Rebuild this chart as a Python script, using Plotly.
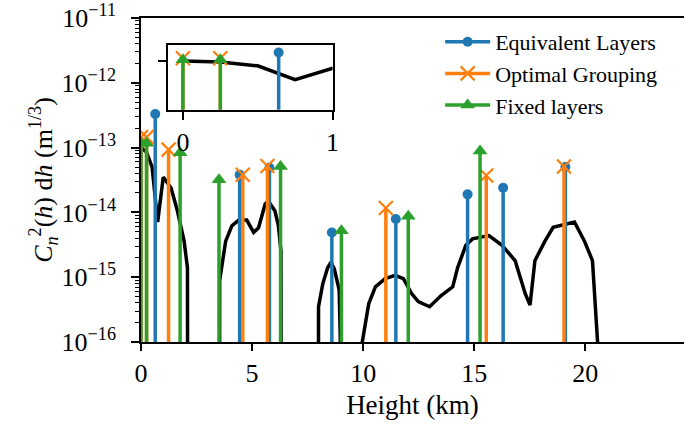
import plotly.graph_objects as go

# ---------------- data ----------------
# turbulence profile (0 = no turbulence at that height)
profile_h = [0.0, 0.25, 0.5, 0.75, 1.0, 1.35, 1.64, 1.94, 2.09, 2.15,
             3.5, 3.54, 3.81, 4.09, 4.4, 4.76, 5.07, 5.29, 5.59, 5.73, 6.03, 6.18, 6.3, 6.35,
             7.95, 7.99, 8.18, 8.4, 8.55, 8.7, 8.92, 8.97,
             9.9, 9.96, 10.25, 10.55, 10.99, 11.44, 11.81, 12.18, 12.48, 12.99, 13.51, 14.03,
             14.25, 14.62, 14.92, 15.66, 16.25, 16.84, 17.29, 17.51, 17.73, 18.18, 18.55,
             19.51, 19.96, 20.32, 20.55, 20.6]
profile_cn2 = [1.0e-13, 8.5e-14, 5.0e-14, 7.1e-15, 3.5e-14, 2.4e-14, 1.05e-14, 3.6e-15, 1.4e-15, 0,
               0, 8.9e-16, 3.6e-15, 6.2e-15, 7.6e-15, 7.6e-15, 4.9e-15, 5.8e-15, 1.35e-14, 1.5e-14, 1.05e-14, 6.3e-15, 2.5e-15, 0,
               0, 3.5e-16, 7.9e-16, 1.4e-15, 1.7e-15, 1.35e-15, 6.3e-16, 0,
               0, 1.0e-16, 3.9e-16, 7.1e-16, 9.5e-16, 1.07e-15, 9.5e-16, 5.6e-16, 4.2e-16, 3.5e-16, 5.2e-16, 7.1e-16,
               1.4e-15, 3.1e-15, 3.9e-15, 4.4e-15, 3.1e-15, 1.8e-15, 5.6e-16, 3.7e-16, 1.8e-15, 3.6e-15, 5.9e-15,
               7.1e-15, 3.6e-15, 1.8e-15, 1.0e-16, 0]

eq_h = [0.64, 4.44, 5.78, 8.59, 11.47, 14.70, 16.30, 19.10]
eq_cn2 = [3.3e-13, 3.8e-14, 4.9e-14, 4.9e-15, 7.9e-15, 1.9e-14, 2.4e-14, 5.0e-14]

opt_h = [0.0, 0.25, 1.24, 4.58, 5.69, 11.02, 15.54, 19.04]
opt_cn2 = [1.45e-13, 1.45e-13, 9.3e-14, 3.8e-14, 5.2e-14, 1.17e-14, 3.7e-14, 5.1e-14]

fix_h = [0.0, 0.25, 1.76, 3.51, 6.28, 9.02, 12.03, 15.26]
fix_cn2 = [1.17e-13, 1.17e-13, 8.3e-14, 3.2e-14, 5.1e-14, 5.2e-15, 8.7e-15, 8.9e-14]

y_exponents = [-16, -15, -14, -13, -12, -11]
x_ticks = [0, 5, 10, 15, 20]
inset_x_ticks = [0, 1]

# ---------------- helpers ----------------
FLOOR = 1e-30  # zero drawn far below the log axis (as matplotlib clips it)
FONT = "Liberation Serif, Tinos, Times New Roman, DejaVu Serif, serif"
BLUE, ORANGE, GREEN = "#1f77b4", "#ff7f0e", "#2ca02c"


def floor0(vals):
    return [v if v > 0 else FLOOR for v in vals]


def stems(h, v):
    xs, ys = [], []
    for a, b in zip(h, v):
        xs += [a, a, None]
        ys += [FLOOR, b, None]
    return xs, ys


series = [
    ("Equivalent Layers", eq_h, eq_cn2, BLUE, dict(symbol="circle", size=10, color=BLUE)),
    ("Optimal Grouping", opt_h, opt_cn2, ORANGE,
     dict(symbol="x-thin", size=14, color=ORANGE, line=dict(color=ORANGE, width=2.2))),
    ("Fixed layers", fix_h, fix_cn2, GREEN, dict(symbol="triangle-up", size=13, color=GREEN)),
]

fig = go.Figure()
for xa, ya, show in [("x", "y", True), ("x2", "y2", False)]:
    fig.add_trace(go.Scatter(x=profile_h, y=floor0(profile_cn2), mode="lines",
                             line=dict(color="black", width=3.5), showlegend=False,
                             xaxis=xa, yaxis=ya, hoverinfo="skip"))
    for name, h, v, col, mk in series:
        xs, ys = stems(h, v)
        fig.add_trace(go.Scatter(x=xs, y=ys, mode="lines+markers", name=name,
                                 line=dict(color=col, width=3.5), marker=mk,
                                 showlegend=show, xaxis=xa, yaxis=ya))

W, H = 691, 425
L, R, T, B = 141, 0, 16, 83
pw, ph = W - L - R, H - T - B

axis_common = dict(showline=True, linecolor="black", linewidth=1.5, ticks="outside",
                   tickcolor="black", tickwidth=1.5, showgrid=False, zeroline=False,
                   ticklabeloverflow="allow",
                   tickfont=dict(family=FONT, size=26, color="black"))

minor_vals = [m * 10.0 ** e for e in y_exponents[:-1] for m in range(2, 10)]

fig.update_layout(
    width=W, height=H,
    margin=dict(l=L, r=R, t=T, b=B),
    paper_bgcolor="white", plot_bgcolor="white",
    font=dict(family=FONT, color="black"),
    xaxis=dict(range=[-0.0005, 24.44], tickvals=x_ticks, ticklen=7, mirror=True,
               title=dict(text="Height (km)", font=dict(family=FONT, size=27), standoff=8),
               **axis_common),
    yaxis=dict(type="log", range=[-16.0002, -10.9998], tickvals=[10.0 ** e for e in y_exponents],
               ticktext=["10<sup>\u2212%d</sup>" % (-e) for e in y_exponents],
               ticklen=8, ticklabelstandoff=10,
               minor=dict(tickvals=minor_vals, ticks="outside", ticklen=4.5, tickwidth=1,
                          tickcolor="black", showgrid=False),
               title=dict(text="<i>C</i><sub><i>n</i></sub><sup>2</sup>(<i>h</i>) d<i>h</i> (m<sup>1/3</sup>)",
                          font=dict(family=FONT, size=26), standoff=0),
               **axis_common),
    xaxis2=dict(domain=[(168.3 - L) / pw, (335 - L) / pw], anchor="y2", range=[-0.1, 1.0],
                tickvals=inset_x_ticks, ticklen=8, mirror=True,
                **{**axis_common, "linewidth": 2}),
    yaxis2=dict(domain=[(H - B - 108.3) / ph, (H - B - 43.3) / ph], anchor="x2", type="log",
                range=[-16, -12.03], tickvals=[1e-13], ticktext=[""], ticklen=8, mirror=True,
                **{**axis_common, "linewidth": 2}),
    legend=dict(x=(444 - L) / pw, xanchor="left", y=1 - (19 - T) / ph, yanchor="top",
                bgcolor="rgba(255,255,255,0)", borderwidth=0, tracegroupgap=0,
                font=dict(family=FONT, size=22, color="black"), itemwidth=45),
)

fig.write_html("out.html")
